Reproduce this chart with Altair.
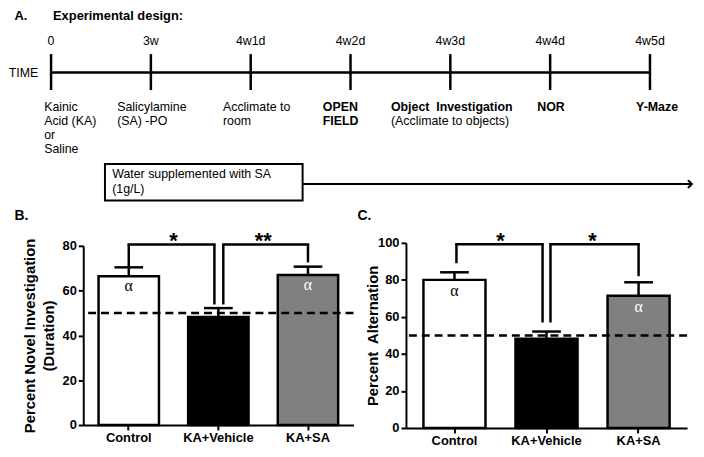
import altair as alt
import pandas as pd

# ---------------- data ----------------
groups = ["Control", "KA+Vehicle", "KA+SA"]
bar_fill = ["white", "black", "#808080"]
alpha_text = ["α", "", "α"]
alpha_color = ["black", "black", "white"]

nor_mean = [66.4, 48.2, 67.0]
nor_sem = [4.0, 4.0, 3.7]
alt_mean = [80.0, 48.2, 71.4]
alt_sem = [4.1, 3.9, 7.3]
chance_level = [50]

# from, to, bracket top, left-leg bottom, right-leg bottom, label
nor_brackets = [
    ("Control", "KA+Vehicle", 80.6, 70.6, 53.8, "*"),
    ("KA+Vehicle", "KA+SA", 80.6, 53.8, 72.6, "**"),
]
alt_brackets = [
    ("Control", "KA+Vehicle", 99.3, 89.0, 57.0, "*"),
    ("KA+Vehicle", "KA+SA", 99.3, 57.0, 82.0, "*"),
]

time_points = ["0", "3w", "4w1d", "4w2d", "4w3d", "4w4d", "4w5d"]
time_index = [0, 1, 2, 3, 4, 5, 6]
event_text = [
    "Kainic\nAcid (KA)\nor\nSaline",
    "Salicylamine\n(SA) -PO",
    "Acclimate to\nroom",
    "OPEN\nFIELD",
    "Object\u00a0 Investigation",
    "NOR",
    "Y-Maze",
]
event_bold = [False, False, False, True, True, True, True]
event_note = ["", "", "", "", "(Acclimate to objects)", "", ""]
sa_period = [0.54, 2.52]
arrow_end = 6.42
box_text = "Water supplemented with SA\n(1g/L)"

# ---------------- layout / style ----------------
FONT = "Liberation Sans, Arial, sans-serif"
SERIF = "Liberation Serif, Times New Roman, serif"
B_W, B_H = 273, 181
C_W, C_H = 284, 187
event_dx = [-7, -34, -28, -28, -60, -13, -14]


def panel(means, sems, brackets, ymax, title, width, height, pad_outer,
          leg_dx, half_step, alpha_dy, title_pad, tag, tag_x, tag_y):
    df = pd.DataFrame({
        "group": groups,
        "mean": means,
        "upper": [m + s for m, s in zip(means, sems)],
        "alpha": alpha_text,
    })
    xscale = alt.Scale(domain=groups, paddingInner=0.326, paddingOuter=pad_outer)
    yscale = alt.Scale(domain=[0, ymax], nice=False)
    xaxis = alt.Axis(title=None, labelAngle=0)
    yaxis = alt.Axis(title=title, values=list(range(0, ymax + 1, 20)),
                     titlePadding=title_pad, titleLineHeight=19)

    def Xf(f):
        return alt.X(f + ":N", scale=xscale, axis=xaxis, sort=groups)

    def Yf(f):
        return alt.Y(f + ":Q", scale=yscale, axis=yaxis)

    base = alt.Chart(df)
    bars = base.mark_bar(stroke="black", strokeWidth=2.5).encode(
        x=Xf("group"), y=Yf("mean"),
        fill=alt.Fill("group:N", scale=alt.Scale(domain=groups, range=bar_fill), legend=None),
    )
    err = base.mark_rule(color="black", strokeWidth=2.5).encode(
        x=Xf("group"), y=Yf("mean"), y2="upper:Q")
    cap = base.mark_tick(color="black", thickness=2.5, size=29, orient="horizontal",
                         opacity=1).encode(x=Xf("group"), y=Yf("upper"))
    alpha = base.mark_text(font=SERIF, fontSize=16, baseline="middle", dy=alpha_dy).encode(
        x=Xf("group"), y=Yf("mean"), text="alpha:N",
        color=alt.Color("group:N", scale=alt.Scale(domain=groups, range=alpha_color), legend=None),
    )
    chance = alt.Chart(pd.DataFrame({"chance": chance_level})).mark_rule(
        color="black", strokeWidth=2.5, strokeDash=[8, 5]).encode(y=Yf("chance"))
    layers = [bars, err, cap, alpha, chance]
    for (g1, g2, top, lb, rb, star), (d1, d2) in zip(brackets, leg_dx):
        bd = alt.Chart(pd.DataFrame({"g1": [g1], "g2": [g2], "top": [top],
                                     "lb": [lb], "rb": [rb], "star": [star]}))
        layers.append(bd.mark_rule(color="black", strokeWidth=2.5, strokeCap="square",
                                   xOffset=d1, x2Offset=d2).encode(
            x=Xf("g1"), x2="g2", y=Yf("top")))
        layers.append(bd.mark_rule(color="black", strokeWidth=2.5, xOffset=d1).encode(
            x=Xf("g1"), y=Yf("lb"), y2="top"))
        layers.append(bd.mark_rule(color="black", strokeWidth=2.5, xOffset=d2).encode(
            x=Xf("g2"), y=Yf("rb"), y2="top"))
        layers.append(bd.mark_text(fontSize=22, fontWeight="bold", baseline="alphabetic",
                                   dx=half_step, dy=4).encode(
            x=Xf("g1"), y=Yf("top"), text="star:N"))
    tagc = alt.Chart(pd.DataFrame({"t": [tag]})).mark_text(
        fontSize=14, fontWeight="bold", align="left", baseline="alphabetic").encode(
        x=alt.value(tag_x), y=alt.value(tag_y), text="t:N")
    layers.append(tagc)
    return alt.layer(*layers)


panelB = panel(nor_mean, nor_sem, nor_brackets, 80,
               ["Percent Novel Investigation", "(Duration)"], B_W, B_H, 0.171,
               [(0, -4), (5, 0)], 45.25, 10, 6, "B.", -69.5, -25.7)
panelC = panel(alt_mean, alt_sem, alt_brackets, 100,
               "Percent\u00a0 Alternation", C_W, C_H, 0.19,
               [(2, -4), (4, 0)], 46.5, 11, -3, "C.", -49, -22.7)

# ---------------- panel A: timeline (drawn in panel B's frame) ----------------
XA_scale = alt.Scale(domain=[0, 6], range=[-32.5, 572.5], nice=False, zero=False)


def XA(f):
    return alt.X(f + ":Q", scale=XA_scale, axis=None)


tl = pd.DataFrame({"pos": time_index, "label": time_points})
one = pd.DataFrame({"start": [time_index[0]], "end": [time_index[-1]]})

a_layers = []
a_layers.append(alt.Chart(pd.DataFrame({"t": ["A."]})).mark_text(
    fontSize=13, fontWeight="bold", align="left", baseline="alphabetic").encode(
    x=alt.value(-69.5), y=alt.value(-227.7), text="t:N"))
a_layers.append(alt.Chart(pd.DataFrame({"t": ["Experimental design:"]})).mark_text(
    fontSize=13, fontWeight="bold", align="left", baseline="alphabetic").encode(
    x=alt.value(-30.5), y=alt.value(-227.7), text="t:N"))
a_layers.append(alt.Chart(one).mark_rule(color="black", strokeWidth=2.5).encode(
    x=XA("start"), x2="end", y=alt.value(-175)))
a_layers.append(alt.Chart(tl).mark_rule(color="black", strokeWidth=2.5).encode(
    x=XA("pos"), y=alt.value(-193.7), y2=alt.value(-157.4)))
a_layers.append(alt.Chart(tl).mark_text(fontSize=12.5, baseline="alphabetic").encode(
    x=XA("pos"), y=alt.value(-202.4), text="label:N"))
a_layers.append(alt.Chart(pd.DataFrame({"pos": [time_index[0]], "t": ["TIME"]})).mark_text(
    fontSize=12.5, align="right", baseline="alphabetic", dx=-13).encode(
    x=XA("pos"), y=alt.value(-170.7), text="t:N"))
for i in range(len(time_index)):
    ed = pd.DataFrame({"pos": [time_index[i]], "t": [event_text[i]], "n": [event_note[i]]})
    a_layers.append(alt.Chart(ed).mark_text(
        fontSize=12.5, fontWeight="bold" if event_bold[i] else "normal", align="left",
        baseline="alphabetic", dx=event_dx[i], lineBreak="\n", lineHeight=14.2).encode(
        x=XA("pos"), y=alt.value(-136.2), text="t:N"))
    if event_note[i]:
        a_layers.append(alt.Chart(ed).mark_text(
            fontSize=12.5, align="left", baseline="alphabetic", dx=event_dx[i]).encode(
            x=XA("pos"), y=alt.value(-121.8), text="n:N"))
sa = pd.DataFrame({"start": [sa_period[0]], "end": [sa_period[1]],
                   "arrow": [arrow_end], "t": [box_text]})
a_layers.append(alt.Chart(sa).mark_rect(fill="white", stroke="black", strokeWidth=2).encode(
    x=XA("start"), x2="end", y=alt.value(-82.7), y2=alt.value(-45.7)))
a_layers.append(alt.Chart(sa).mark_text(
    fontSize=12.5, align="left", baseline="alphabetic", dx=7.3, lineBreak="\n",
    lineHeight=14.5).encode(x=XA("start"), y=alt.value(-68.2), text="t:N"))
a_layers.append(alt.Chart(sa).mark_rule(color="black", strokeWidth=2).encode(
    x=XA("end"), x2="arrow", y=alt.value(-62.4)))
a_layers.append(alt.Chart(sa).mark_point(
    shape="M-1,-1L0,0L-1,1", filled=False, size=64, strokeWidth=2, color="black",
    opacity=1).encode(x=XA("arrow"), y=alt.value(-62.4)))
timeline = alt.layer(*a_layers)

B_full = alt.layer(panelB, timeline).resolve_scale(x="independent", y="independent").properties(
    width=B_W, height=B_H)
C_full = panelC.properties(width=C_W, height=C_H)

chart = alt.hconcat(B_full, C_full, spacing=53, bounds="flush", center=True).properties(
    padding=0
).configure_view(stroke=None).configure_axis(
    domainColor="black", domainWidth=2, tickColor="black", tickWidth=2, tickSize=5,
    labelColor="black", labelFont=FONT, labelFontSize=13, labelFontWeight="bold",
    labelPadding=2, titleFont=FONT, titleFontSize=15, titleFontWeight="bold",
    titleColor="black", grid=False,
).configure_text(font=FONT, color="black")

chart.save("out.html", embed_options={"renderer": "svg", "actions": False})
